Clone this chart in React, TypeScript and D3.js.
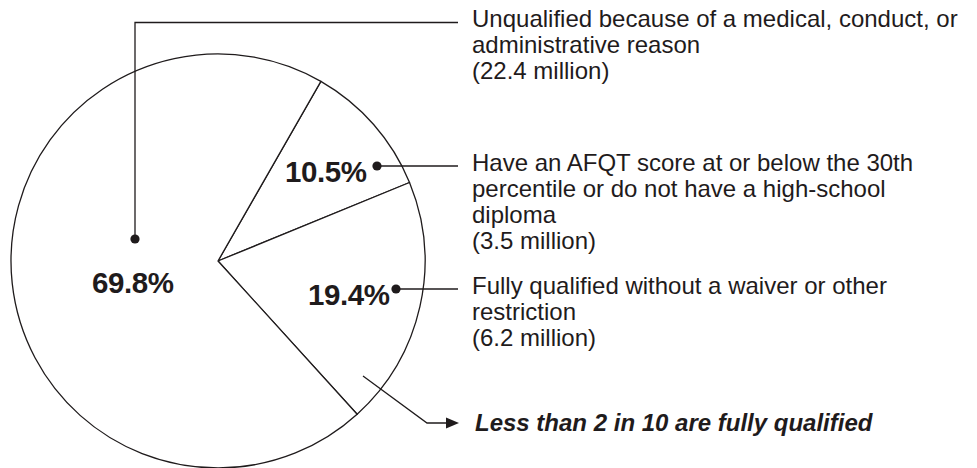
import React from 'react';
import * as d3 from 'd3';

// Slice shares (percent), in drawing order clockwise from the first boundary
const sliceKeys = ['afqt', 'qualified', 'unqualified'];
const slicePercents = [10.5, 19.4, 69.8];
const sliceLabels = ['10.5%', '19.4%', '69.8%'];

// Callout text for each slice
const calloutLines: Record<string, string[]> = {
  unqualified: [
    'Unqualified because of a medical, conduct, or',
    'administrative reason',
    '(22.4 million)',
  ],
  afqt: [
    'Have an AFQT score at or below the 30th',
    'percentile or do not have a high-school',
    'diploma',
    '(3.5 million)',
  ],
  qualified: [
    'Fully qualified without a waiver or other',
    'restriction',
    '(6.2 million)',
  ],
};

const takeaway = 'Less than 2 in 10 are fully qualified';

const W = 977;
const H = 468;
const INK = '#1f1b1c';
const FONT = '"Liberation Sans", Arial, Helvetica, sans-serif';

// layout of the annotations (pixels)
const cx = 218;
const cy = 261;
const radius = 207;
const startDeg = 29.8;
const textX = 472;
const lineEndX = 458;
const lineGap = 26;

const labelPos: Record<string, { x: number; y: number; dot: [number, number] }> = {
  afqt: { x: 285, y: 182, dot: [377, 166] },
  qualified: { x: 308, y: 305, dot: [396, 289] },
  unqualified: { x: 92, y: 293, dot: [135, 239] },
};
const calloutTop: Record<string, number> = { unqualified: 27, afqt: 171, qualified: 294 };

export default function App() {
  const start = (startDeg * Math.PI) / 180;
  const pie = d3
    .pie<number>()
    .sort(null)
    .value((d) => d)
    .startAngle(start)
    .endAngle(start + Math.PI * 2);
  const arcs = pie(slicePercents);
  const arc = d3.arc<d3.PieArcDatum<number>>().innerRadius(0).outerRadius(radius);

  const line = d3.line<[number, number]>();
  const topY = 22.5;

  return (
    <svg
      width={W}
      height={H}
      style={{ position: 'absolute', left: 0, top: 0, display: 'block', background: '#fff' }}
    >
      <g transform={`translate(${cx},${cy})`}>
        {arcs.map((a, i) => (
          <path key={sliceKeys[i]} d={arc(a) || ''} fill="#fff" stroke={INK} strokeWidth={1.3} strokeLinejoin="round" />
        ))}
      </g>

      {/* percent labels, dots and leaders */}
      {sliceKeys.map((k, i) => {
        const p = labelPos[k];
        const [dx, dy] = p.dot;
        const leader: [number, number][] =
          k === 'unqualified'
            ? [[dx, dy], [dx, topY], [lineEndX, topY]]
            : [[dx, dy], [lineEndX, dy]];
        return (
          <g key={k}>
            <text
              x={p.x}
              y={p.y}
              fontFamily={FONT}
              fontWeight="bold"
              fontSize={29.5}
              letterSpacing={-0.4}
              fill={INK}
            >
              {sliceLabels[i]}
            </text>
            <path d={line(leader) || ''} fill="none" stroke={INK} strokeWidth={1.3} />
            <circle cx={dx} cy={dy} r={4.6} fill={INK} />
            <text fontFamily={FONT} fontSize={24} fill={INK}>
              {calloutLines[k].map((t, j) => (
                <tspan key={j} x={textX} y={calloutTop[k] + j * lineGap}>
                  {t}
                </tspan>
              ))}
            </text>
          </g>
        );
      })}

      {/* takeaway arrow */}
      <path
        d={line([[363, 376], [427, 423], [448, 423]]) || ''}
        fill="none"
        stroke={INK}
        strokeWidth={1.3}
      />
      <path d="M446,417.5 L459,423 L446,428.5 Z" fill={INK} />
      <text x={475} y={431} fontFamily={FONT} fontWeight="bold" fontStyle="italic" fontSize={24} fill={INK}>
        {takeaway}
      </text>
    </svg>
  );
}
